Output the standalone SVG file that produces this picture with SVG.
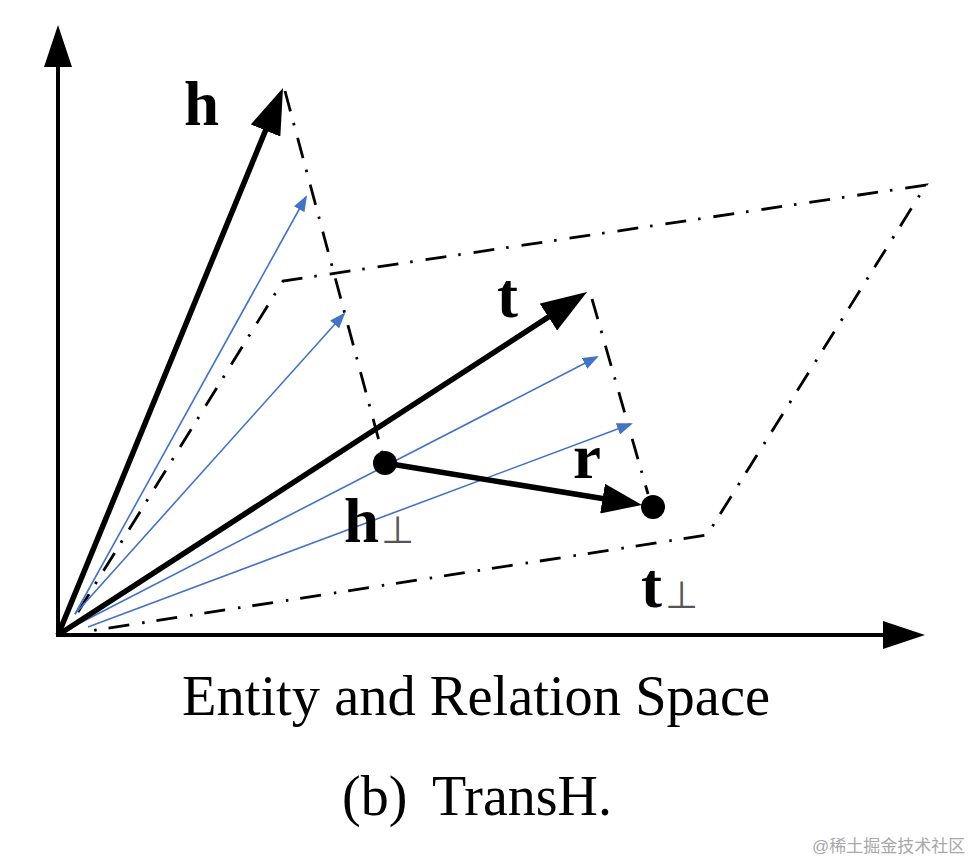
<svg xmlns="http://www.w3.org/2000/svg" width="978" height="862" viewBox="0 0 978 862">
  <style>
    .axis { stroke: #000; stroke-width: 4; fill: none; }
    .vec { stroke: #000; stroke-width: 5.5; fill: none; }
    .blue { stroke: #4472c4; stroke-width: 1.6; fill: none; }
    .dd { stroke: #000; stroke-width: 2.8; fill: none; stroke-dasharray: 21 12 2.5 13; }
    .lbl { font-family: "Liberation Serif", "Times New Roman", serif; font-weight: bold; font-size: 63px; fill: #000; }
    .perp { font-family: "DejaVu Sans", sans-serif; font-weight: normal; font-size: 38px; fill: #555; }
    .cap { font-family: "Liberation Serif", "Times New Roman", serif; font-size: 56px; fill: #000; }
    .wm { font-family: "Liberation Sans", "Noto Sans CJK SC", sans-serif; font-size: 17px; fill: #a8a8a8; }
  </style>
  <defs>
    <marker id="axHead" markerUnits="userSpaceOnUse" markerWidth="42" markerHeight="28" refX="22" refY="14" orient="auto">
      <path d="M0,0 L42,14 L0,28 z" fill="#000"/>
    </marker>
    <marker id="vecHead" markerUnits="userSpaceOnUse" markerWidth="46" markerHeight="32" refX="26" refY="16" orient="auto">
      <path d="M0,0 L46,16 L0,32 z" fill="#000"/>
    </marker>
    <marker id="rHead" markerUnits="userSpaceOnUse" markerWidth="40" markerHeight="30" refX="20" refY="15" orient="auto">
      <path d="M0,0 L40,15 L0,30 z" fill="#000"/>
    </marker>
    <marker id="blueHead" markerUnits="userSpaceOnUse" markerWidth="16" markerHeight="12" refX="14" refY="6" orient="auto">
      <path d="M0,0 L16,6 L0,12 z" fill="#4472c4"/>
    </marker>
  </defs>

  <g id="plane">
    <path class="dd" d="M78,612 L283,281 L926,185 L707,535 L90,631"/>
  </g>

  <g id="connectors">
    <line class="axis" x1="58" y1="637" x2="58" y2="45" marker-end="url(#axHead)"/>
    <line class="axis" x1="56" y1="635" x2="905" y2="635" marker-end="url(#axHead)"/>
    <line class="dd" x1="285" y1="91" x2="382" y2="452"/>
    <line class="dd" x1="592" y1="299" x2="648" y2="494"/>
    <line class="blue" x1="75" y1="614" x2="306" y2="197" marker-end="url(#blueHead)"/>
    <line class="blue" x1="75" y1="614" x2="344" y2="314" marker-end="url(#blueHead)"/>
    <line class="blue" x1="80" y1="623" x2="597" y2="357" marker-end="url(#blueHead)"/>
    <line class="blue" x1="88" y1="627" x2="631" y2="424" marker-end="url(#blueHead)"/>
    <line class="vec" x1="58" y1="635" x2="275.4" y2="106.5" marker-end="url(#vecHead)"/>
    <line class="vec" x1="58" y1="635" x2="570.2" y2="302.9" marker-end="url(#vecHead)"/>
    <line class="vec" x1="385" y1="463" x2="622.3" y2="501.8" marker-end="url(#rHead)"/>
  </g>

  <g id="h_perp">
    <circle cx="385" cy="463" r="12" fill="#000"/>
    <text class="lbl" x="344" y="542">h<tspan class="perp" x="381" y="543">⊥</tspan></text>
  </g>
  <g id="t_perp">
    <circle cx="653" cy="507" r="12" fill="#000"/>
    <text class="lbl" x="641" y="607">t<tspan class="perp" x="665" y="608">⊥</tspan></text>
  </g>
  <g id="h_label">
    <text class="lbl" x="184" y="125">h</text>
  </g>
  <g id="t_label">
    <text class="lbl" x="497" y="317">t</text>
  </g>
  <g id="r_label">
    <text class="lbl" x="573" y="478">r</text>
  </g>

  <g id="captions">
    <text class="cap" x="182" y="715" textLength="588" lengthAdjust="spacingAndGlyphs">Entity and Relation Space</text>
    <text class="cap" x="342" y="815">(b) <tspan x="432">TransH.</tspan></text>
  </g>

  <text class="wm" x="812" y="852">@稀土掘金技术社区</text>
</svg>
